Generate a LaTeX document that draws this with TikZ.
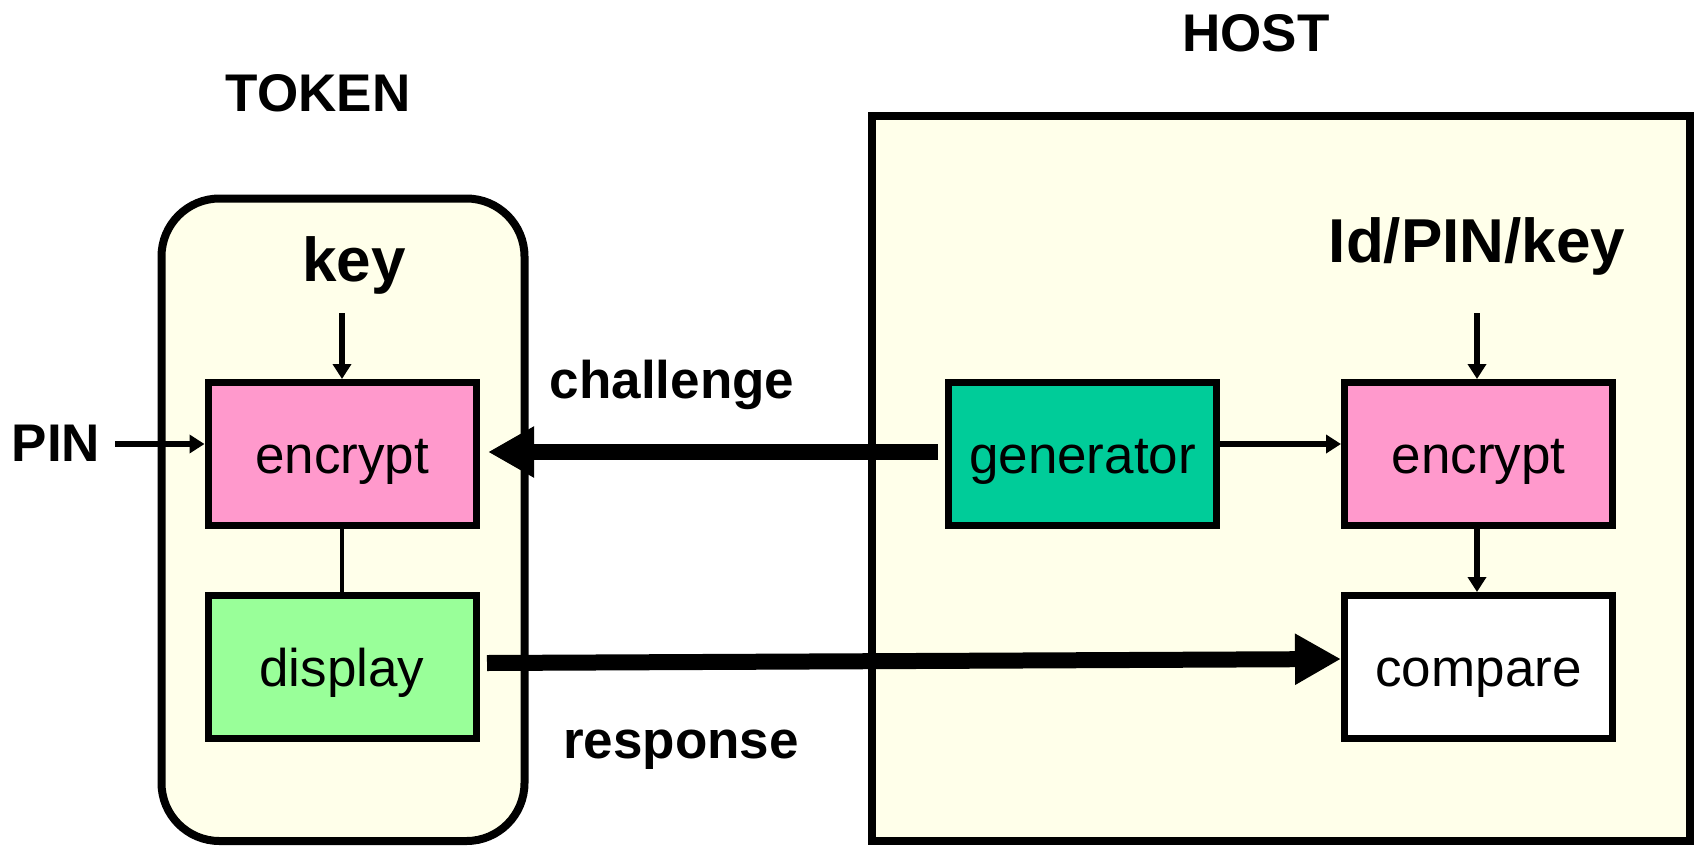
\documentclass[tikz,border=0pt]{standalone}
\usepackage{fontspec}
\setmainfont{Liberation Sans}
\usetikzlibrary{arrows.meta}
\definecolor{bgyellow}{RGB}{255,255,234}
\definecolor{pinkbox}{RGB}{255,153,204}
\definecolor{greenbox}{RGB}{153,255,153}
\definecolor{tealbox}{RGB}{0,204,153}
\tikzset{
  container/.style={draw=black, line width=8pt, fill=bgyellow},
  procbox/.style={draw=black, line width=7pt, minimum width=268pt, minimum height=143pt, inner sep=0pt,
    font=\fontsize{53}{60}\selectfont, text height=38pt, text depth=0pt},
  biglabel/.style={font=\bfseries\fontsize{53}{60}\selectfont, anchor=base, inner sep=0pt},
  keylabel/.style={font=\bfseries\fontsize{62}{70}\selectfont, anchor=base, inner sep=0pt},
  thinarrow/.style={line width=5.5pt, -{Triangle[length=15pt,width=18pt]}},
  thinline/.style={line width=4.5pt},
  thickarrow/.style={line width=16pt, -{Triangle[length=46pt,width=48pt]}},
}
\begin{document}
\begin{tikzpicture}[x=1pt, y=-1pt]
\useasboundingbox (0,0) rectangle (1694,846);
% containers
\draw[container, rounded corners=58pt] (161.5,198.5) rectangle (524.5,841);
\draw[container] (871.5,116) rectangle (1689.5,840.5);
% titles
\node[biglabel] (tokenlbl) at (318,111) {TOKEN};
\node[biglabel] (hostlbl) at (1256,51) {HOST};
\node[keylabel] (keylbl) at (354,281) {key};
\node[keylabel] (idlbl) at (1477,262) {Id/PIN/key};
\node[biglabel] (pinlbl) at (56,461) {PIN};
\node[biglabel] (challbl) at (672,398) {challenge};
\node[biglabel] (resplbl) at (681,758) {response};
% boxes
\node[procbox, fill=pinkbox] (tenc) at (342,454) {encrypt};
\node[procbox, fill=greenbox] (disp) at (342,667) {display};
\node[procbox, fill=tealbox] (gen) at (1082.5,454) {generator};
\node[procbox, fill=pinkbox] (henc) at (1478.5,454) {encrypt};
\node[procbox, fill=white] (comp) at (1478.5,667) {compare};
% free ends
\coordinate (pinstart) at (115,444);
\coordinate (tkeystart) at (342,313);
\coordinate (hkeystart) at (1477,313);
\coordinate (chstart) at (938,452);
\coordinate (chend) at (488,452);
\coordinate (rsstart) at (487,663);
\coordinate (rsend) at (1341,659);
% connectors
\draw[thinarrow] (pinstart) -- (tenc.west |- pinstart);
\draw[thinarrow] (tkeystart) -- (tenc.north -| tkeystart);
\draw[thinline] (tenc.south) -- (disp.north);
\draw[thinarrow] (hkeystart) -- (henc.north -| hkeystart);
\draw[thinarrow] (gen.east |- 0,444) -- (henc.west |- 0,444);
\draw[thinarrow] (henc.south -| hkeystart) -- (comp.north -| hkeystart);
\draw[thickarrow] (chstart) -- (chend);
\draw[thickarrow] (rsstart) -- (rsend);
\end{tikzpicture}
\end{document}
